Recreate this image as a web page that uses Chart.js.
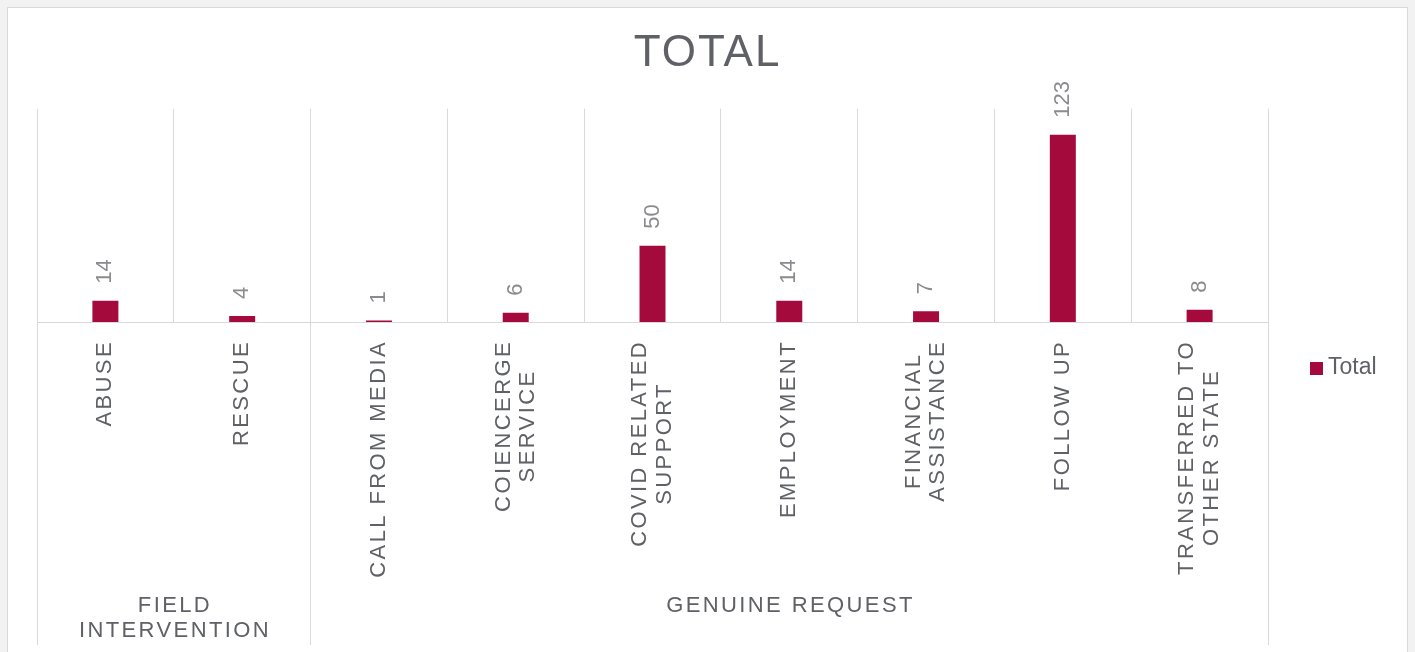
<!DOCTYPE html>
<html><head><meta charset="utf-8">
<script src="https://cdn.jsdelivr.net/npm/chart.js@4.4.1/dist/chart.umd.min.js"></script>
<style>
html,body{margin:0;padding:0;background:#f2f2f2;width:1415px;height:652px;overflow:hidden}
#frame{position:absolute;left:7px;top:7px;width:1399px;height:660px;border:1px solid #d9d9d9;background:#fff}
#c{display:block}
</style></head><body>
<div id="frame"><canvas id="c" width="1399" height="644"></canvas></div>
<script>
// ---- data ----
const categories = [['ABUSE'],['RESCUE'],['CALL FROM MEDIA'],['COIENCERGE','SERVICE'],['COVID RELATED','SUPPORT'],['EMPLOYMENT'],['FINANCIAL','ASSISTANCE'],['FOLLOW UP'],['TRANSFERRED TO','OTHER STATE']];
const totals = [14,4,1,6,50,14,7,123,8];
const groupLabels = [['FIELD','INTERVENTION'],['GENUINE REQUEST']];
const groupSizes = [2,7];
const seriesName = 'Total';
const chartTitle = 'TOTAL';

const BAR = '#a50a3d';
const TXT = '#5f6166';
const DLBL = '#898b8e';
const GRID = '#d9d9d9';
const SANS = '"Liberation Sans", Arial, sans-serif';

function align(chart, px){ const d = chart.currentDevicePixelRatio||1; return Math.round((px-0.5)*d)/d+0.5; }

const spacingPlugin = {
  id:'spacing',
  beforeDraw(chart){ chart.ctx.letterSpacing='2px'; },
  beforeDatasetsDraw(chart){ chart.ctx.letterSpacing='0px'; }
};

const decoPlugin = {
  id:'deco',
  afterDraw(chart){
    const ctx = chart.ctx, xs = chart.scales.x, area = chart.chartArea;
    const bottom = 637;
    ctx.save();
    // group separator extensions
    ctx.strokeStyle = GRID; ctx.lineWidth = 1;
    let idx = 0; const bounds=[0];
    groupSizes.forEach(s=>{ idx+=s; bounds.push(idx); });
    bounds.forEach(b=>{
      const x = align(chart, xs.getPixelForValue(b-0.5));
      ctx.beginPath(); ctx.moveTo(x, area.bottom); ctx.lineTo(x, bottom); ctx.stroke();
    });
    // category labels
    ctx.fillStyle = TXT;
    ctx.font = '22px ' + SANS;
    ctx.letterSpacing = '2.4px';
    ctx.textAlign = 'center'; ctx.textBaseline = 'middle';
    const top = area.bottom + 18, lh = 24.5;
    categories.forEach((lines,i)=>{
      const cx = xs.getPixelForValue(i);
      const maxW = Math.max(...lines.map(l=>ctx.measureText(l).width));
      ctx.save();
      ctx.translate(cx, top);
      ctx.rotate(-Math.PI/2);
      lines.forEach((l,k)=>{
        ctx.fillText(l, -maxW/2, (k-(lines.length-1)/2)*lh);
      });
      ctx.restore();
    });
    // group labels
    let s = 0;
    groupLabels.forEach((lines,g)=>{
      const x0 = xs.getPixelForValue(s-0.5), x1 = xs.getPixelForValue(s+groupSizes[g]-0.5);
      s += groupSizes[g];
      lines.forEach((l,k)=>{ ctx.fillText(l, (x0+x1)/2 + 1.2, 598 + k*24.5); });
    });
    // data labels
    ctx.letterSpacing = '0px';
    ctx.fillStyle = DLBL;
    ctx.font = '22px "Liberation Sans Narrow", "Arial Narrow", ' + SANS;
    ctx.textAlign = 'left';
    const meta = chart.getDatasetMeta(0);
    meta.data.forEach((bar,i)=>{
      ctx.save();
      ctx.translate(bar.x, bar.y - 17);
      ctx.rotate(-Math.PI/2);
      ctx.fillText(String(totals[i]), 0, 0);
      ctx.restore();
    });
    // legend
    const ds = chart.data.datasets[0];
    ctx.fillStyle = ds.backgroundColor;
    ctx.fillRect(1302, 354, 13, 13);
    ctx.fillStyle = TXT;
    ctx.font = '23px ' + SANS;
    ctx.textBaseline = 'middle';
    ctx.fillText(ds.label, 1320, 360);
    ctx.restore();
  }
};

const hidden = { grid:{ display:false }, border:{ display:false }, ticks:{ display:false } };

new Chart(document.getElementById('c'), {
  type:'bar',
  data:{ labels: categories, datasets:[{ label: seriesName, data: totals, backgroundColor: BAR, borderWidth:0, categoryPercentage:1, barPercentage:0.19 }] },
  plugins:[spacingPlugin, decoPlugin],
  options:{
    responsive:false, animation:false,
    layout:{ padding:0 },
    plugins:{
      legend:{ display:false },
      tooltip:{ enabled:false },
      title:{ display:true, text: chartTitle, color: TXT, font:{ family: SANS, size:44, weight:'normal' }, padding:{ top:19, bottom:29 } }
    },
    scales:{
      x:{ offset:true, grid:{ offset:true, color:GRID, lineWidth:1, drawTicks:false }, border:{ display:true, color:GRID, width:1 }, ticks:{ display:false }, afterFit(s){ s.height = 330; } },
      y:{ position:'left', min:0, max:140, ...hidden, afterFit(s){ s.width = 29; } },
      yR:{ position:'right', min:0, max:140, ...hidden, afterFit(s){ s.width = 139; } }
    }
  }
});
</script>
</body></html>
